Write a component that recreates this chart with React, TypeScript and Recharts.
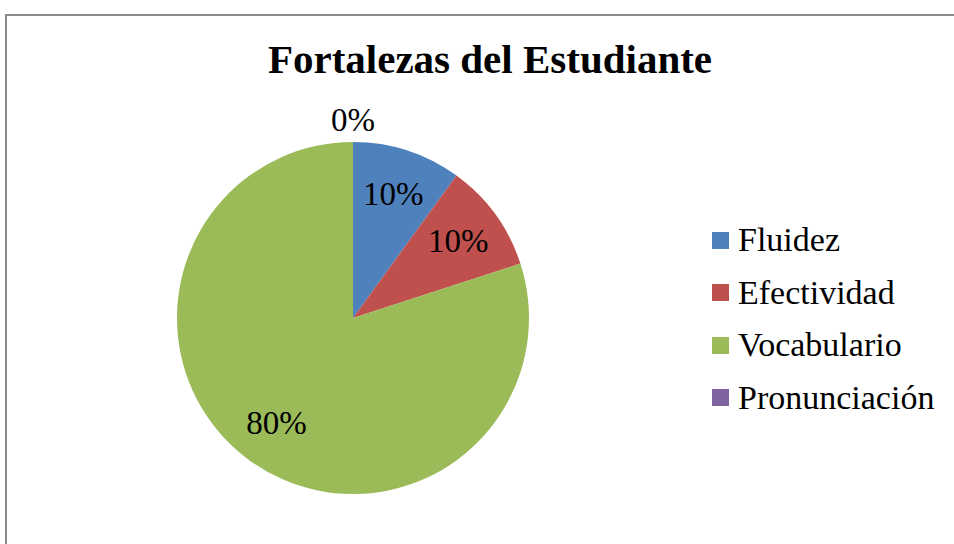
import { Cell, Legend, Pie, PieChart } from 'recharts';

const categories = ['Fluidez', 'Efectividad', 'Vocabulario', 'Pronunciación'];
const values = [10, 10, 80, 0];
const colors = ['#4F81BD', '#C0504D', '#9BBB59', '#8064A2'];
const title = 'Fortalezas del Estudiante';

const data = categories.map((name, i) => ({ name, value: values[i] }));

const FONT = '"Liberation Serif", "DejaVu Serif", serif';
const RADIAN = Math.PI / 180;

function renderLabel(props: any) {
  const { cx, cy, midAngle, outerRadius, value, percent } = props;
  const r = value === 0 ? outerRadius + 22 : outerRadius * 0.74;
  const x = cx + r * Math.cos(-midAngle * RADIAN);
  const y = cy + r * Math.sin(-midAngle * RADIAN);
  return (
    <text
      x={x}
      y={y}
      textAnchor="middle"
      dominantBaseline="central"
      fill="#000"
      style={{ fontFamily: FONT, fontSize: 33 }}
    >
      {`${Math.round(percent * 100)}%`}
    </text>
  );
}

function LegendContent() {
  return (
    <div style={{ fontFamily: FONT, fontSize: 34, color: '#000' }}>
      {categories.map((name, i) => (
        <div
          key={name}
          style={{ display: 'flex', alignItems: 'center', height: 52.5 }}
        >
          <span
            style={{
              display: 'inline-block',
              width: 17,
              height: 17,
              background: colors[i],
              marginRight: 9,
            }}
          />
          <span>{name}</span>
        </div>
      ))}
    </div>
  );
}

export default function App() {
  return (
    <div
      style={{
        position: 'absolute',
        left: 0,
        top: 0,
        width: 954,
        height: 544,
        overflow: 'hidden',
        background: '#fff',
      }}
    >
      <div
        style={{
          position: 'absolute',
          left: 5,
          top: 14,
          width: 1000,
          height: 600,
          border: '2px solid #8a8a8a',
        }}
      />
      <div
        style={{
          position: 'absolute',
          left: 0,
          top: 34,
          width: 980,
          textAlign: 'center',
          fontFamily: FONT,
          fontWeight: 'bold',
          fontSize: 41,
          lineHeight: '50px',
          color: '#000',
        }}
      >
        {title}
      </div>
      <div style={{ position: 'absolute', left: 0, top: 0 }}>
        <PieChart
          width={954}
          height={544}
          margin={{ top: 0, right: 0, bottom: 0, left: 0 }}
        >
          <Pie
            data={data}
            dataKey="value"
            nameKey="name"
            cx={353}
            cy={318}
            outerRadius={176}
            startAngle={90}
            endAngle={-270}
            stroke="none"
            label={renderLabel}
            labelLine={false}
            isAnimationActive={false}
          >
            {data.map((d, i) => (
              <Cell key={d.name} fill={colors[i]} />
            ))}
          </Pie>
          <Legend
            content={<LegendContent />}
            wrapperStyle={{ left: 712, top: 214, width: 240 }}
          />
        </PieChart>
      </div>
    </div>
  );
}
